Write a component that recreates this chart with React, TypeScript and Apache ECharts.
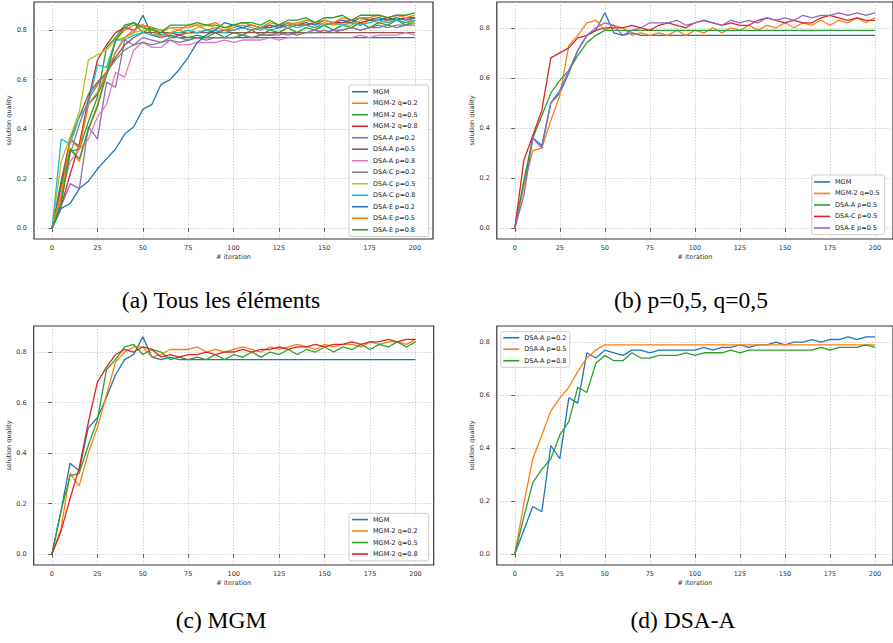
import React, { useEffect, useRef } from 'react';
import * as echarts from 'echarts';

const ITERATIONS = [0, 5, 10, 15, 20, 25, 30, 35, 40, 45, 50, 55, 60, 65, 70, 75, 80, 85, 90, 95, 100, 105, 110, 115, 120, 125, 130, 135, 140, 145, 150, 155, 160, 165, 170, 175, 180, 185, 190, 195, 200];
const X_TICKS = [0, 25, 50, 75, 100, 125, 150, 175, 200];
const Y_TICKS = [0, 0.2, 0.4, 0.6, 0.8];

const MGM = [0, 0.17, 0.36, 0.33, 0.50, 0.54, 0.62, 0.71, 0.77, 0.79, 0.86, 0.78, 0.77, 0.78, 0.77, 0.77, 0.77, 0.77, 0.77, 0.77, 0.77, 0.77, 0.77, 0.77, 0.77, 0.77, 0.77, 0.77, 0.77, 0.77, 0.77, 0.77, 0.77, 0.77, 0.77, 0.77, 0.77, 0.77, 0.77, 0.77, 0.77];
const MGM2_Q02 = [0, 0.10, 0.32, 0.27, 0.40, 0.50, 0.63, 0.76, 0.80, 0.82, 0.82, 0.78, 0.79, 0.81, 0.81, 0.81, 0.82, 0.80, 0.81, 0.80, 0.81, 0.82, 0.81, 0.80, 0.82, 0.81, 0.82, 0.83, 0.82, 0.81, 0.83, 0.82, 0.83, 0.83, 0.82, 0.84, 0.83, 0.84, 0.84, 0.83, 0.85];
const MGM2_Q05 = [0, 0.17, 0.31, 0.32, 0.43, 0.53, 0.73, 0.77, 0.82, 0.83, 0.79, 0.81, 0.80, 0.77, 0.78, 0.77, 0.78, 0.77, 0.79, 0.77, 0.79, 0.78, 0.80, 0.78, 0.80, 0.79, 0.81, 0.79, 0.81, 0.80, 0.82, 0.80, 0.82, 0.81, 0.83, 0.81, 0.83, 0.82, 0.84, 0.82, 0.84];
const MGM2_Q08 = [0, 0.09, 0.22, 0.34, 0.52, 0.68, 0.74, 0.79, 0.81, 0.80, 0.82, 0.81, 0.78, 0.79, 0.78, 0.79, 0.79, 0.80, 0.79, 0.80, 0.80, 0.81, 0.80, 0.81, 0.81, 0.82, 0.81, 0.82, 0.82, 0.83, 0.82, 0.83, 0.83, 0.84, 0.83, 0.84, 0.84, 0.85, 0.84, 0.85, 0.85];
const DSAA_P02 = [0, 0.09, 0.18, 0.16, 0.41, 0.36, 0.59, 0.57, 0.76, 0.74, 0.77, 0.76, 0.75, 0.77, 0.77, 0.76, 0.77, 0.77, 0.77, 0.77, 0.77, 0.78, 0.77, 0.78, 0.78, 0.79, 0.78, 0.79, 0.79, 0.80, 0.79, 0.80, 0.80, 0.81, 0.80, 0.81, 0.81, 0.82, 0.81, 0.82, 0.82];
const DSAA_P05 = [0, 0.19, 0.36, 0.45, 0.54, 0.59, 0.63, 0.69, 0.74, 0.77, 0.79, 0.79, 0.79, 0.79, 0.79, 0.79, 0.79, 0.79, 0.79, 0.79, 0.79, 0.79, 0.79, 0.79, 0.79, 0.79, 0.79, 0.79, 0.79, 0.79, 0.79, 0.79, 0.79, 0.79, 0.79, 0.79, 0.79, 0.79, 0.79, 0.79, 0.79];
const DSAA_P08 = [0, 0.14, 0.27, 0.32, 0.36, 0.45, 0.50, 0.63, 0.61, 0.72, 0.75, 0.73, 0.73, 0.76, 0.74, 0.74, 0.75, 0.75, 0.75, 0.76, 0.75, 0.76, 0.76, 0.76, 0.77, 0.76, 0.77, 0.77, 0.77, 0.77, 0.77, 0.77, 0.77, 0.77, 0.78, 0.77, 0.78, 0.78, 0.78, 0.79, 0.78];
const DSAC_P02 = [0, 0.12, 0.30, 0.42, 0.52, 0.58, 0.63, 0.68, 0.72, 0.74, 0.75, 0.74, 0.75, 0.76, 0.75, 0.76, 0.77, 0.76, 0.77, 0.77, 0.77, 0.78, 0.77, 0.78, 0.78, 0.78, 0.79, 0.78, 0.79, 0.79, 0.80, 0.79, 0.80, 0.81, 0.80, 0.81, 0.82, 0.81, 0.82, 0.82, 0.83];
const DSAC_P05 = [0, 0.27, 0.37, 0.47, 0.68, 0.70, 0.72, 0.76, 0.77, 0.79, 0.80, 0.80, 0.80, 0.81, 0.80, 0.79, 0.81, 0.82, 0.81, 0.80, 0.82, 0.83, 0.82, 0.81, 0.82, 0.81, 0.81, 0.83, 0.84, 0.83, 0.82, 0.83, 0.82, 0.82, 0.84, 0.85, 0.84, 0.83, 0.84, 0.83, 0.83];
const DSAC_P08 = [0, 0.36, 0.34, 0.45, 0.50, 0.66, 0.65, 0.76, 0.76, 0.78, 0.79, 0.78, 0.78, 0.79, 0.79, 0.80, 0.79, 0.80, 0.80, 0.79, 0.80, 0.81, 0.80, 0.81, 0.80, 0.81, 0.82, 0.81, 0.82, 0.81, 0.82, 0.83, 0.82, 0.83, 0.82, 0.83, 0.84, 0.83, 0.84, 0.83, 0.84];
const DSAE_P02 = [0, 0.08, 0.10, 0.16, 0.19, 0.24, 0.28, 0.32, 0.38, 0.41, 0.48, 0.50, 0.58, 0.60, 0.64, 0.69, 0.75, 0.78, 0.80, 0.83, 0.82, 0.81, 0.82, 0.81, 0.82, 0.81, 0.83, 0.82, 0.83, 0.82, 0.84, 0.83, 0.84, 0.83, 0.85, 0.84, 0.85, 0.84, 0.85, 0.84, 0.85];
const DSAE_P05 = [0, 0.13, 0.36, 0.32, 0.50, 0.55, 0.63, 0.71, 0.77, 0.80, 0.82, 0.81, 0.77, 0.79, 0.80, 0.82, 0.82, 0.82, 0.83, 0.81, 0.82, 0.83, 0.82, 0.81, 0.83, 0.82, 0.83, 0.82, 0.84, 0.83, 0.84, 0.83, 0.85, 0.84, 0.85, 0.85, 0.86, 0.85, 0.86, 0.85, 0.86];
const DSAE_P08 = [0, 0.10, 0.32, 0.28, 0.40, 0.49, 0.62, 0.76, 0.81, 0.83, 0.81, 0.80, 0.79, 0.82, 0.82, 0.82, 0.83, 0.82, 0.82, 0.81, 0.82, 0.83, 0.83, 0.82, 0.84, 0.82, 0.84, 0.84, 0.85, 0.83, 0.85, 0.85, 0.86, 0.84, 0.86, 0.86, 0.86, 0.85, 0.86, 0.86, 0.87];

const TAB10 = ['#1f77b4', '#ff7f0e', '#2ca02c', '#d62728', '#9467bd', '#8c564b', '#e377c2', '#7f7f7f', '#bcbd22', '#17becf'];

type Entry = [string, number[]];

const PANEL_A: Entry[] = [
  ['MGM', MGM], ['MGM-2 q=0.2', MGM2_Q02], ['MGM-2 q=0.5', MGM2_Q05], ['MGM-2 q=0.8', MGM2_Q08],
  ['DSA-A p=0.2', DSAA_P02], ['DSA-A p=0.5', DSAA_P05], ['DSA-A p=0.8', DSAA_P08],
  ['DSA-C p=0.2', DSAC_P02], ['DSA-C p=0.5', DSAC_P05], ['DSA-C p=0.8', DSAC_P08],
  ['DSA-E p=0.2', DSAE_P02], ['DSA-E p=0.5', DSAE_P05], ['DSA-E p=0.8', DSAE_P08],
];
const PANEL_B: Entry[] = [
  ['MGM', MGM], ['MGM-2 q=0.5', MGM2_Q05], ['DSA-A p=0.5', DSAA_P05], ['DSA-C p=0.5', DSAC_P05], ['DSA-E p=0.5', DSAE_P05],
];
const PANEL_C: Entry[] = [
  ['MGM', MGM], ['MGM-2 q=0.2', MGM2_Q02], ['MGM-2 q=0.5', MGM2_Q05], ['MGM-2 q=0.8', MGM2_Q08],
];
const PANEL_D: Entry[] = [
  ['DSA-A p=0.2', DSAA_P02], ['DSA-A p=0.5', DSAA_P05], ['DSA-A p=0.8', DSAA_P08],
];

const CAPTIONS = ['(a) Tous les éléments', '(b) p=0,5, q=0,5', '(c) MGM', '(d) DSA-A'];

const SMALL_FONT = 'DejaVu Sans';
const FS = 6.5;

export default function App() {
  const ref = useRef<HTMLDivElement>(null);
  useEffect(() => {
    if (!ref.current) return;
    const chart = echarts.init(ref.current, null, { renderer: 'svg' });

    const panels = [
      { entries: PANEL_A, grid: { left: 34, top: 2, width: 399, height: 237 }, ymin: -0.0435, ymax: 0.9135,
        legend: { left: 349, top: 85, padding: [1, 11, 1, 3] } },
      { entries: PANEL_B, grid: { left: 496.8, top: 2, width: 399.7, height: 237 }, ymin: -0.043, ymax: 0.903,
        legend: { left: 811.7, top: 175, padding: [1.2, 5, 1, 2.3] } },
      { entries: PANEL_C, grid: { left: 33.7, top: 326, width: 400, height: 239 }, ymin: -0.043, ymax: 0.903,
        legend: { left: 349, top: 513.3, padding: [0.5, 11, 1, 3] } },
      { entries: PANEL_D, grid: { left: 496.8, top: 326, width: 399.7, height: 239 }, ymin: -0.041, ymax: 0.861,
        legend: { left: 500.7, top: 331.7, padding: [0.3, 3.3, 0.8, 2.6] } },
    ];

    const grids: any[] = [];
    const xAxes: any[] = [];
    const yAxes: any[] = [];
    const series: any[] = [];
    const legends: any[] = [];

    const tickStyle = { color: '#333', width: 0.8 };
    const splitStyle = { color: '#bdbdbd', width: 0.7, type: [1.5, 1.5] };
    const labelStyle = { fontSize: FS, color: '#333', fontFamily: SMALL_FONT };

    panels.forEach((p, i) => {
      grids.push({ ...p.grid, show: true, borderColor: '#333', borderWidth: 1.2, backgroundColor: 'transparent', containLabel: false });
      xAxes.push({
        type: 'value', gridIndex: i, min: -10, max: 210,
        axisLine: { show: false },
        axisTick: { show: true, inside: false, length: 3.5, lineStyle: tickStyle, customValues: X_TICKS },
        axisLabel: { ...labelStyle, margin: 5, customValues: X_TICKS },
        splitLine: { show: true, lineStyle: splitStyle },
        name: '# iteration', nameLocation: 'middle', nameGap: 14,
        nameTextStyle: labelStyle,
      });
      yAxes.push({
        type: 'value', gridIndex: i, min: p.ymin, max: p.ymax,
        axisLine: { show: false },
        axisTick: { show: true, inside: false, length: 3.5, lineStyle: tickStyle, customValues: Y_TICKS },
        axisLabel: { ...labelStyle, margin: 7, customValues: Y_TICKS, formatter: (v: number) => v.toFixed(1) },
        splitLine: { show: true, lineStyle: splitStyle },
        name: 'solution quality', nameLocation: 'middle', nameGap: 20, nameRotate: 90,
        nameTextStyle: labelStyle,
      });
      const names: string[] = [];
      p.entries.forEach(([label, values], k) => {
        const name = `${i}|${label}`;
        names.push(name);
        const color = TAB10[k % TAB10.length];
        series.push({
          type: 'line', name, xAxisIndex: i, yAxisIndex: i,
          data: ITERATIONS.map((x, j) => [x, values[j]]),
          symbol: 'none', showSymbol: false,
          lineStyle: { color, width: 1.3 }, itemStyle: { color },
          emphasis: { disabled: true },
        });
      });
      legends.push({
        ...p.legend, orient: 'vertical', data: names, icon: 'rect', itemWidth: 16, itemHeight: 1.6, itemGap: 0,
        formatter: (n: string) => n.split('|')[1],
        textStyle: { ...labelStyle, color: '#222', lineHeight: 11.5 },
        backgroundColor: 'rgba(255,255,255,0.85)', borderColor: '#cccccc', borderWidth: 1, borderRadius: 2,
        selectedMode: false,
      });
    });

    const capPos = [[221, 300], [691, 300], [221, 620], [683, 620]];
    const graphic = CAPTIONS.map((t, i) => ({
      type: 'text', x: capPos[i][0], y: capPos[i][1],
      style: { text: t, textAlign: 'center', textVerticalAlign: 'middle', font: '23.5px "Liberation Serif"', fill: '#000' },
    }));

    chart.setOption({
      animation: false,
      backgroundColor: '#fff',
      grid: grids, xAxis: xAxes, yAxis: yAxes, series, legend: legends, graphic,
    });
    return () => chart.dispose();
  }, []);
  return <div ref={ref} style={{ position: 'absolute', left: 0, top: 0, width: 893, height: 643 }} />;
}
